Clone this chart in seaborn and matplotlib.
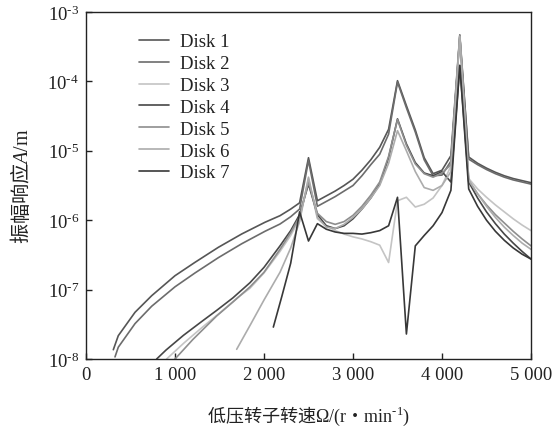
import numpy as np
import pandas as pd
import matplotlib
matplotlib.use("Agg")
import matplotlib.pyplot as plt
import seaborn as sns
from matplotlib.ticker import FixedLocator, FuncFormatter

# ---- data: speed (r/min) and log10 of amplitude (m) ----
disk1_rpm = [307, 363, 551, 738, 1000, 1225, 1487, 1749, 2011, 2180, 2300, 2400, 2500, 2600, 2700, 2800,
             2900, 3000, 3100, 3200, 3300, 3400, 3500, 3600, 3700, 3800, 3900, 4000, 4100, 4200, 4300,
             4400, 4500, 4600, 4700, 4800, 4900, 5000]
disk1_log = [-7.866, -7.664, -7.327, -7.088, -6.80, -6.607, -6.391, -6.199, -6.03, -5.935, -5.84, -5.75,
             -5.10, -5.72, -5.65, -5.58, -5.50, -5.41, -5.28, -5.13, -4.95, -4.69, -3.99, -4.35, -4.70,
             -5.10, -5.33, -5.28, -5.07, -3.33, -5.09, -5.18, -5.25, -5.31, -5.36, -5.40, -5.43, -5.46]

disk2_rpm = [326, 363, 551, 738, 1000, 1225, 1487, 1749, 2011, 2180, 2300, 2400, 2500, 2600, 2700, 2800,
             2900, 3000, 3100, 3200, 3300, 3400, 3500, 3600, 3700, 3800, 3900, 4000, 4100, 4200, 4300,
             4400, 4500, 4600, 4700, 4800, 4900, 5000]
disk2_log = [-7.97, -7.83, -7.49, -7.24, -6.96, -6.76, -6.54, -6.34, -6.16, -6.055, -5.95, -5.84,
             -5.14, -5.80, -5.73, -5.66, -5.58, -5.50, -5.36, -5.20, -5.05, -4.76, -4.01, -4.38, -4.73,
             -5.13, -5.36, -5.35, -5.15, -3.35, -5.12, -5.20, -5.27, -5.33, -5.38, -5.42, -5.45, -5.48]

disk3_rpm = [906, 1100, 1300, 1500, 1700, 1843, 2000, 2180, 2300, 2400, 2500, 2600, 2700, 2800, 2900,
             3000, 3100, 3200, 3300, 3400, 3500, 3600, 3700, 3800, 3900, 4000, 4100, 4200, 4300, 4400,
             4500, 4600, 4700, 4800, 4900, 5000]
disk3_log = [-8.0, -7.77, -7.55, -7.34, -7.12, -6.98, -6.76, -6.45, -6.22, -5.98, -5.40, -5.98, -6.08,
             -6.15, -6.20, -6.24, -6.27, -6.31, -6.36, -6.61, -5.72, -5.67, -5.81, -5.77, -5.68, -5.50,
             -5.22, -3.36, -5.40, -5.55, -5.67, -5.78, -5.88, -5.98, -6.07, -6.15]

disk4_rpm = [794, 900, 1094, 1300, 1468, 1650, 1843, 2000, 2180, 2300, 2400, 2500, 2600, 2700, 2800,
             2900, 3000, 3100, 3200, 3300, 3400, 3500, 3600, 3700, 3800, 3900, 4000, 4100, 4200, 4300,
             4400, 4500, 4600, 4700, 4800, 4900, 5000]
disk4_log = [-8.0, -7.87, -7.66, -7.46, -7.30, -7.12, -6.90, -6.68, -6.37, -6.15, -5.92, -5.48, -5.92,
             -6.08, -6.12, -6.08, -5.98, -5.84, -5.68, -5.48, -5.10, -4.54, -4.90, -5.17, -5.32, -5.36,
             -5.30, -5.45, -3.77, -5.45, -5.68, -5.88, -6.05, -6.20, -6.33, -6.45, -6.56]

disk5_rpm = [1000, 1200, 1468, 1650, 1843, 2000, 2180, 2300, 2400, 2500, 2600, 2700, 2800, 2900, 3000,
             3100, 3200, 3300, 3400, 3500, 3600, 3700, 3800, 3900, 4000, 4100, 4200, 4300, 4400, 4500,
             4600, 4700, 4800, 4900, 5000]
disk5_log = [-8.0, -7.72, -7.38, -7.18, -6.96, -6.75, -6.42, -6.18, -5.95, -5.45, -5.90, -6.02, -6.06,
             -6.02, -5.93, -5.80, -5.64, -5.45, -5.08, -4.55, -4.92, -5.19, -5.33, -5.38, -5.32, -5.20,
             -3.34, -5.43, -5.62, -5.78, -5.92, -6.04, -6.16, -6.27, -6.37]

disk6_rpm = [1693, 1850, 2000, 2180, 2300, 2400, 2500, 2600, 2700, 2800, 2900, 3000, 3100, 3200, 3300,
             3400, 3500, 3600, 3700, 3800, 3900, 4000, 4100, 4200, 4300, 4400, 4500, 4600, 4700, 4800,
             4900, 5000]
disk6_log = [-7.86, -7.50, -7.15, -6.75, -6.40, -6.02, -5.38, -5.96, -6.10, -6.12, -6.06, -5.96, -5.84,
             -5.68, -5.50, -5.18, -4.71, -5.00, -5.30, -5.53, -5.57, -5.50, -5.30, -3.35, -5.42, -5.62,
             -5.80, -5.96, -6.10, -6.22, -6.33, -6.42]

disk7_rpm = [2105, 2200, 2300, 2400, 2500, 2600, 2700, 2800, 2900, 3000, 3100, 3200, 3300, 3400, 3500,
             3600, 3700, 3800, 3900, 4000, 4100, 4200, 4300, 4400, 4500, 4600, 4700, 4800, 4900, 5000]
disk7_log = [-7.54, -7.10, -6.62, -5.88, -6.30, -6.05, -6.13, -6.17, -6.19, -6.19, -6.20, -6.18, -6.15,
             -6.08, -5.67, -7.64, -6.37, -6.22, -6.08, -5.89, -5.57, -3.77, -5.55, -5.80, -6.00, -6.16,
             -6.29, -6.40, -6.49, -6.56]

disk_names = ["Disk 1", "Disk 2", "Disk 3", "Disk 4", "Disk 5", "Disk 6", "Disk 7"]
disk_colors = ["#565656", "#6c6c6c", "#c4c4c4", "#474747", "#8e8e8e", "#acacac", "#383838"]

x_ticks = [0, 1000, 2000, 3000, 4000, 5000]
y_ticks = [1e-8, 1e-7, 1e-6, 1e-5, 1e-4, 1e-3]

all_rpm = [disk1_rpm, disk2_rpm, disk3_rpm, disk4_rpm, disk5_rpm, disk6_rpm, disk7_rpm]
all_log = [disk1_log, disk2_log, disk3_log, disk4_log, disk5_log, disk6_log, disk7_log]

frames = []
for name, r, lg in zip(disk_names, all_rpm, all_log):
    frames.append(pd.DataFrame({"rpm": r, "amp": 10.0 ** np.array(lg), "disk": name}))
df = pd.concat(frames, ignore_index=True)

# ---- style ----
sns.set_theme(style="white")
plt.rcParams["font.family"] = ["Liberation Serif", "Noto Sans CJK SC", "DejaVu Serif"]
plt.rcParams["mathtext.fontset"] = "custom"
plt.rcParams["mathtext.rm"] = "Noto Sans CJK SC"
plt.rcParams["mathtext.it"] = "Liberation Serif:italic"
plt.rcParams["mathtext.sf"] = "Liberation Serif"
plt.rcParams["mathtext.bf"] = "Liberation Serif:bold"

HY = "\u2010"  # short hyphen used as the exponent sign


def ytick_fmt(v, p):
    e = int(round(-np.log10(v)))
    return "$\\mathsf{10}^{\\mathsf{" + HY + str(e) + "}}$"


fig = plt.figure(figsize=(5.54, 4.27), dpi=100)
ax = fig.add_axes([0.1552, 0.1569, 0.9585 - 0.1552, 0.9696 - 0.1569])

sns.lineplot(data=df, x="rpm", y="amp", hue="disk", hue_order=disk_names,
             palette=dict(zip(disk_names, disk_colors)), estimator=None, sort=False,
             linewidth=1.2, ax=ax)

ax.set_yscale("log")
ax.set_xlim(0, 5000)
ax.set_ylim(1e-8, 1e-3)
ax.xaxis.set_major_locator(FixedLocator(x_ticks))
ax.xaxis.set_major_formatter(FuncFormatter(lambda v, p: "0" if v == 0 else f"{int(v)//1000} {int(v)%1000:03d}"))
ax.yaxis.set_major_locator(FixedLocator(y_ticks))
ax.yaxis.set_major_formatter(FuncFormatter(ytick_fmt))
ax.yaxis.set_minor_locator(FixedLocator([]))
ax.tick_params(axis="both", which="major", direction="in", length=4, width=1.0,
               labelsize=13.5, colors="#222222", pad=5, bottom=True, left=True, top=False, right=False)
for s in ax.spines.values():
    s.set_color("#222222")
    s.set_linewidth(1.0)

ax.set_xlabel("$\\mathrm{低压转子转速}\\mathsf{Ω/(r}\\mathrm{・}\\mathsf{min}^{\\mathsf{" + HY + "1}}\\mathsf{)}$",
              fontsize=13, color="#222222", labelpad=15)
ax.set_ylabel("$\\mathrm{振幅响应}\\mathit{A}\\mathsf{/m}$", fontsize=14.5, color="#222222", labelpad=10)

leg = ax.legend(loc="upper left", bbox_to_anchor=(0.103, 0.96), frameon=False, fontsize=13.5,
                handlelength=1.6, handletextpad=0.55, labelspacing=0.25, borderaxespad=0.0)
for t in leg.get_texts():
    t.set_color("#222222")

fig.savefig("out.png", dpi=100)
